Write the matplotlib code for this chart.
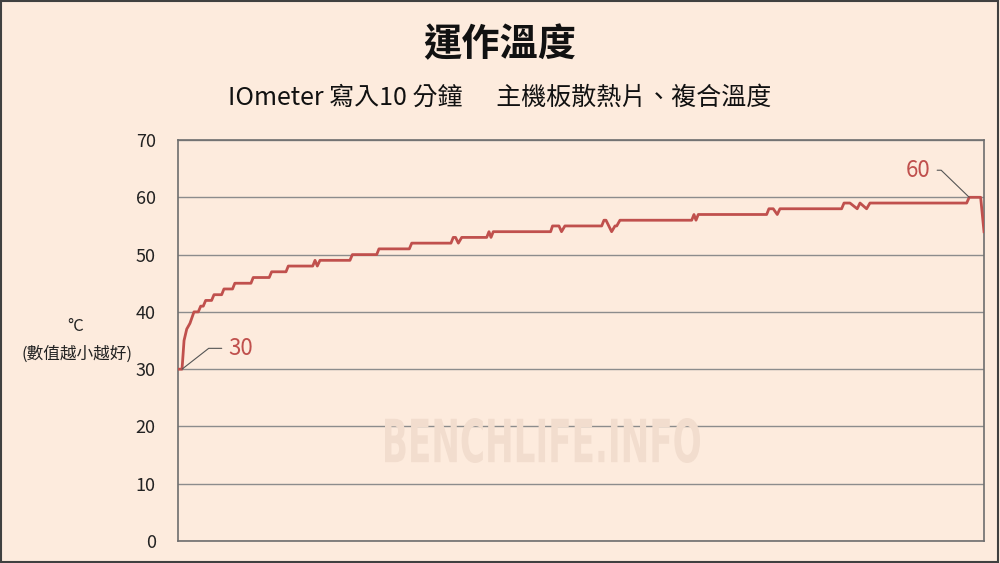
import matplotlib
matplotlib.use('Agg')
import matplotlib.pyplot as plt
from matplotlib.patches import Rectangle, PathPatch
from matplotlib.textpath import TextPath
from matplotlib.font_manager import FontProperties
from matplotlib.transforms import Affine2D, IdentityTransform

plt.rcParams['font.family'] = ['Noto Sans CJK TC', 'DejaVu Sans']

# 時間(秒) / 溫度(°C) 轉折點
seconds = [0, 3, 4.5, 6.5, 8.9, 10.4, 11.9, 15.1, 16.9, 18.8, 20.6, 25, 26.8, 32.5, 34.2,
           40.6, 42.3, 54.3, 56, 67.9, 69.7, 80.4, 82.1, 100.3, 102, 103.7, 105.7, 128, 129.8,
           147.9, 149.6, 172.2, 174, 203.2, 204.9, 206.6, 208.7, 211.2, 229.8, 231.5, 233,
           234.7, 277.4, 278.8, 283.6, 285.5, 288, 315.4, 317.1, 318.6, 322.8, 325.3, 326.6,
           329, 382.4, 384.1, 385.6, 387.3, 438.2, 439.9, 443.1, 446.1, 448.1, 494, 495.8,
           500.2, 505.6, 507.7, 512.6, 515.1, 587.1, 589, 597.5, 600]
temps = [30, 30, 35, 37, 38, 39, 40, 40, 41, 41, 42, 42, 43, 43, 44,
         44, 45, 45, 46, 46, 47, 47, 48, 48, 49, 48, 49, 49, 50,
         50, 51, 51, 52, 52, 53, 53, 52, 53, 53, 54, 53,
         54, 54, 55, 55, 54, 55, 55, 56, 56, 54, 55, 55,
         56, 56, 57, 56, 57, 57, 58, 58, 57, 58, 58, 59,
         59, 58, 59, 58, 59, 59, 60, 60, 54]
yticks = [0, 10, 20, 30, 40, 50, 60, 70]

bg = '#FDEBDD'
red = '#C0504D'

fig = plt.figure(figsize=(10, 5.63), dpi=100, facecolor=bg)
ax = fig.add_axes([0.178, 0.039, 0.806, 0.7123], facecolor=bg)

# 浮水印 (壓扁的字)
tp = TextPath((0, 0), 'BENCHLIFE.INFO', size=50,
              prop=FontProperties(family='DejaVu Sans', weight='bold'))
ext = tp.get_extents()
wm_tr = (Affine2D().translate(-ext.x0, -ext.y0)
         .scale(315 / ext.width, 45 / ext.height).translate(385, 100))
fig.patches.append(PathPatch(tp, transform=wm_tr + IdentityTransform(), lw=0,
                             facecolor='#F2DDCE', zorder=0))

ax.plot(seconds, temps, color=red, lw=2, zorder=3)

ax.set_xlim(0, 600)
ax.set_ylim(0, 70)
ax.set_yticks(yticks)
ax.set_xticks([])
ax.tick_params(axis='y', length=0, pad=16, labelsize=13, colors='#222222')
ax.grid(axis='y', color='#8c8c8c', lw=1)
for s in ax.spines.values():
    s.set_color('#6e6e6e')
    s.set_linewidth(1.2)

# 標註
ax.annotate('30', xy=(3, 30), xytext=(42.5, 15), textcoords='offset points',
            ha='center', va='center', fontsize=16, color=red,
            arrowprops=dict(arrowstyle='-', color='#555555', lw=0.8, relpos=(0, 0.5),
                            shrinkA=3, shrinkB=0,
                            connectionstyle='angle,angleA=0,angleB=38,rad=0'))
ax.annotate('60', xy=(589, 60), xytext=(-37, 19.5), textcoords='offset points',
            ha='center', va='center', fontsize=16, color=red,
            arrowprops=dict(arrowstyle='-', color='#555555', lw=0.8, relpos=(1, 0.5),
                            shrinkA=3, shrinkB=0,
                            connectionstyle='angle,angleA=0,angleB=-44,rad=0'))

# 標題
fig.text(0.5, 0.92, '運作溫度', ha='center', va='center', fontsize=27.5,
         fontweight='bold', color='#111111')
fig.text(0.5, 0.826, 'IOmeter 寫入10 分鐘      主機板散熱片、複合溫度', ha='center',
         va='center', fontsize=18, color='#111111')

# Y 軸說明
fig.text(0.076, 0.42, '°C', ha='center', va='center', fontsize=12, color='#222222')
fig.text(0.077, 0.37, '(數值越小越好)', ha='center', va='center', fontsize=12,
         color='#222222')

# 外框
fig.patches.append(Rectangle((0.001, 0.002), 0.997, 0.996, transform=fig.transFigure,
                             fill=False, edgecolor='#404040', lw=1.5))

fig.savefig('out.png', dpi=100, facecolor=bg)
